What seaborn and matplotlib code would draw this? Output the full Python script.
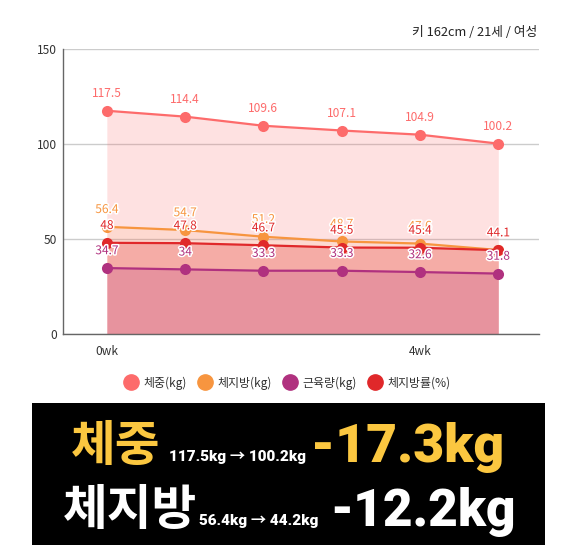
import matplotlib
matplotlib.use("Agg")
import matplotlib.pyplot as plt
import matplotlib.patheffects as pe
from matplotlib.lines import Line2D
from matplotlib.patches import Rectangle
import seaborn as sns
import pandas as pd

weeks = [0, 1, 2, 3, 4, 5]
xtick_labels = ["0wk", "", "", "", "4wk", ""]
series_names = ["체중(kg)", "체지방(kg)", "근육량(kg)", "체지방률(%)"]
weight = [117.5, 114.4, 109.6, 107.1, 104.9, 100.2]
body_fat = [56.4, 54.7, 51.2, 48.7, 47.6, 44.2]
muscle = [34.7, 34.0, 33.3, 33.3, 32.6, 31.8]
fat_pct = [48, 47.8, 46.7, 45.5, 45.4, 44.1]
colors = ["#fd6b6b", "#f7953f", "#b0317f", "#e0282a"]
info_text = "키 162cm / 21세 / 여성"

sns.set_theme(style="white")
plt.rcParams["font.family"] = ["Noto Sans CJK KR", "DejaVu Sans"]

values = [weight, body_fat, muscle, fat_pct]
rows = []
for name, vals in zip(series_names, values):
    for w, v in zip(weeks, vals):
        rows.append({"week": w, "value": v, "series": name})
df = pd.DataFrame(rows)

fig = plt.figure(figsize=(5.75, 5.53), dpi=100)
ax = fig.add_axes([63 / 575, 219 / 553, 476 / 575, 285 / 553])

# fills
alphas = [0.2, 0.1, 0.2, 0.25]
fill_order = [0, 1, 3, 2]
for i in fill_order:
    ax.fill_between(weeks, values[i], 0, color=colors[i], alpha=alphas[i], linewidth=0, zorder=1)

sns.lineplot(data=df, x="week", y="value", hue="series", hue_order=series_names,
             palette=colors, marker="o", markersize=8, markeredgewidth=0,
             linewidth=1.6, ax=ax, legend=False, zorder=3)

# labels
label_order = [0, 1, 3, 2]
for k, i in enumerate(label_order):
    for w, v in zip(weeks, values[i]):
        if i == 1 and w == 5:
            continue
        txt = ax.annotate(f"{v:g}", (w, v), xytext=(0, 12.5), textcoords="offset points",
                          ha="center", va="center", fontsize=8.6, color=colors[i],
                          zorder=5 + k)
        if i != 0:
            txt.set_path_effects([pe.withStroke(linewidth=2.2, foreground="white")])

ax.set_xlim(-0.56, 5.52)
ax.set_ylim(0, 150)
ax.set_yticks([0, 50, 100, 150])
ax.set_xticks(weeks)
ax.set_xticklabels(xtick_labels)
ax.set_xlabel("")
ax.set_ylabel("")
ax.grid(axis="y", color="#cccccc", linewidth=1)
ax.set_axisbelow(True)
for s in ["top", "right"]:
    ax.spines[s].set_visible(False)
for s in ["left", "bottom"]:
    ax.spines[s].set_color("#666666")
    ax.spines[s].set_linewidth(1.0)
ax.tick_params(axis="both", length=0, labelsize=8.6, colors="#333333")
ax.tick_params(axis="y", pad=4)
ax.tick_params(axis="x", pad=8)

fig.text(537 / 575, 1 - 33 / 553, info_text, ha="right", va="center", fontsize=9.2, color="#222222")

handles = [Line2D([], [], marker="o", linestyle="", markersize=11, color=c) for c in colors]
fig.legend(handles, series_names, loc="center", bbox_to_anchor=(0.495, 1 - 383 / 553),
           ncol=4, frameon=False, fontsize=8.6, handletextpad=0.05, columnspacing=0.5,
           labelcolor="#333333")

# black summary box
fig.patches.append(Rectangle((32 / 575, 8 / 553), 513 / 575, 142 / 553,
                             transform=fig.transFigure, facecolor="black", edgecolor="none"))

yellow = "#fbc740"
def ftxt(x, y, s, size, color, family=None):
    fam = family if family else ["Noto Sans CJK KR", "DejaVu Sans"]
    fig.text(x / 575, 1 - y / 553, s, ha="left", va="baseline", fontsize=size,
             color=color, fontweight="black", family=fam)

num_fam = ["Roboto", "Noto Sans CJK KR", "DejaVu Sans"]
ftxt(71, 461, "체중", 35, yellow)
ftxt(169, 461, "117.5kg → 100.2kg", 11, "white", num_fam)
ftxt(311, 462, "-17.3kg", 38.5, yellow, num_fam)
ftxt(63, 525, "체지방", 35, "white")
ftxt(199, 525, "56.4kg → 44.2kg", 11, "white", num_fam)
ftxt(330, 526, "-12.2kg", 37, "white", num_fam)

fig.savefig("out.png", dpi=100, facecolor="white")
